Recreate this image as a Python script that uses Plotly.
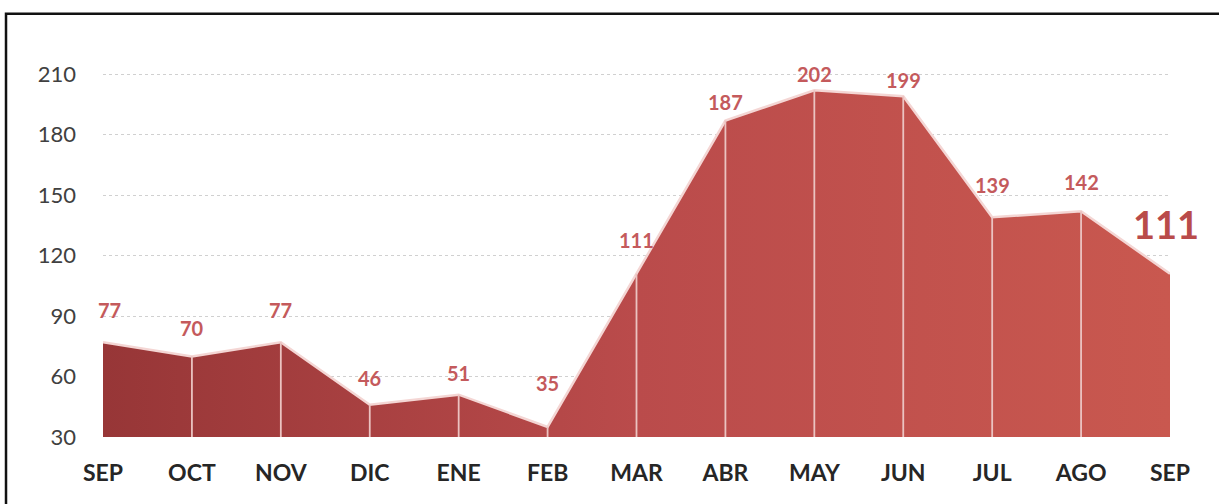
import plotly.graph_objects as go

months = ["SEP", "OCT", "NOV", "DIC", "ENE", "FEB", "MAR", "ABR", "MAY", "JUN", "JUL", "AGO", "SEP"]
values = [77, 70, 77, 46, 51, 35, 111, 187, 202, 199, 139, 142, 111]
y_ticks = [30, 60, 90, 120, 150, 180, 210]

# style: vertical offset (px) of each value label above its point
label_shift = [32, 28, 32, 27, 22, 44, 34, 19, 16, 16, 32, 29, 50]

BASE = 30
xs = list(range(len(months)))

fig = go.Figure()

fig.add_trace(go.Scatter(
    x=xs, y=values, mode="lines",
    line=dict(color="#F4D6D4", width=2.5),
    fill="tozeroy",
    fillgradient=dict(type="horizontal",
                      colorscale=[[0, "#973637"], [0.5, "#BA4B4B"], [1, "#C9584F"]]),
    hoverinfo="skip", showlegend=False,
))

# white vertical separators at interior points
for i in xs[1:-1]:
    fig.add_trace(go.Scatter(
        x=[i, i], y=[BASE, values[i]], mode="lines",
        line=dict(color="#EBC3C1", width=1.8),
        hoverinfo="skip", showlegend=False,
    ))

for i, v in enumerate(values):
    last = i == len(values) - 1
    fig.add_annotation(
        x=i, y=v, text=str(v), showarrow=False,
        yshift=label_shift[i], xshift=(-4 if last else (6 if i == 0 else 0)),
        font=dict(family="Lato, Open Sans, sans-serif",
                  size=(38 if last else 20), weight="bold",
                  color=("#B94B4A" if last else "#C45A5C")),
        yanchor="middle",
    )

fig.update_layout(
    width=1219, height=504,
    margin=dict(l=103, r=49, t=54, b=67),
    paper_bgcolor="white", plot_bgcolor="white",
    font=dict(family="Lato, Open Sans, sans-serif"),
    xaxis=dict(
        range=[0, 12], tickmode="array", tickvals=xs, ticktext=months,
        showgrid=False, zeroline=False, showline=False, ticks="",
        ticklabelstandoff=20,
        tickfont=dict(size=23, color="#262626", family="Lato, sans-serif", weight="bold"),
    ),
    yaxis=dict(
        range=[30, 220], tickmode="array", tickvals=y_ticks,
        showgrid=True, gridcolor="#D0D0D0", griddash="dot", gridwidth=1,
        zeroline=False, showline=False, ticks="",
        ticklabelstandoff=26,
        tickfont=dict(size=22, color="#404040"),
    ),
    shapes=[dict(type="rect", xref="paper", yref="paper",
                 x0=-0.0909, x1=1.1, y0=-0.3, y1=1.105,
                 line=dict(color="#111111", width=2.5), fillcolor="rgba(0,0,0,0)",
                 layer="above")],
)

fig.write_html("out.html", config={"displayModeBar": False},
               post_script="document.body.style.margin='0';document.body.style.padding='0';")
